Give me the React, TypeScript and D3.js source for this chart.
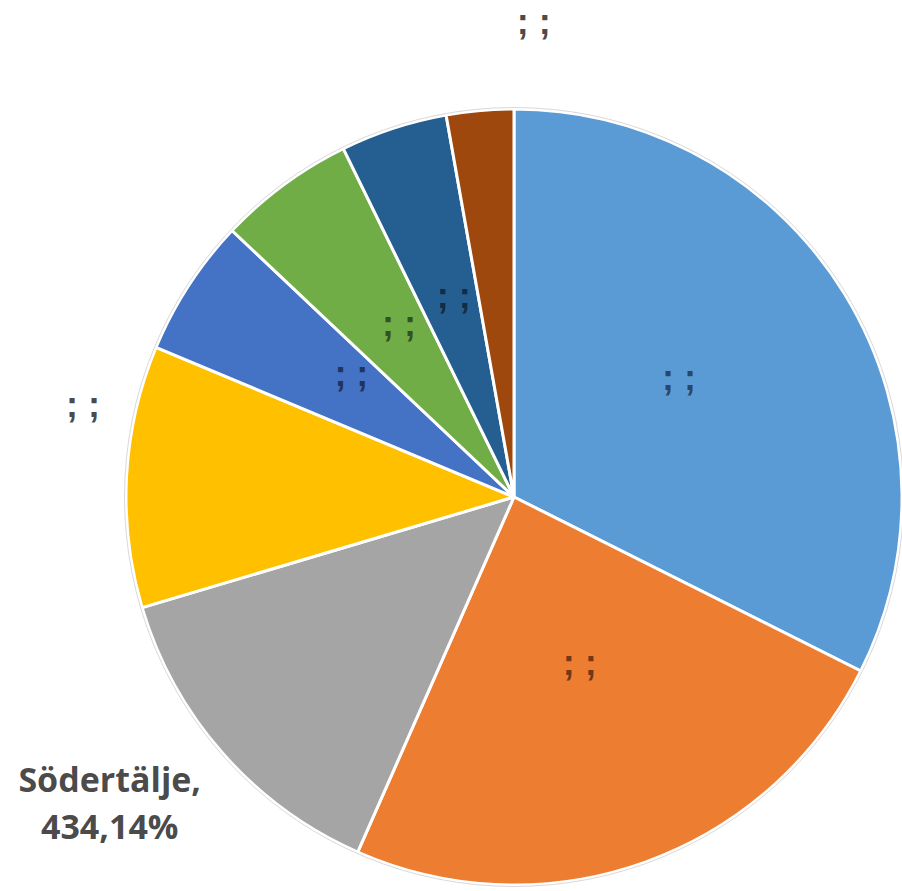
import { useEffect, useRef } from 'react';
import * as d3 from 'd3';

// slice order, clockwise from 12 o'clock
const names = ['A', 'B', 'C', 'D', 'E', 'F', 'G', 'H'];
const values = [32.4, 24.2, 13.8, 10.9, 5.75, 5.7, 4.45, 2.8];
const colors = ['#5B9BD5', '#ED7D31', '#A5A5A5', '#FFC000', '#4472C4', '#70AD47', '#255E91', '#9E480E'];
const labelTexts = [['; ;'], ['; ;'], ['Södertälje,', '434,14%'], ['; ;'], ['; ;'], ['; ;'], ['; ;'], ['; ;']];
// which labels Excel pushed outside the pie
const outside = [false, false, true, true, false, false, false, true];

const W = 902, H = 891;

const App = () => {
    const ref = useRef<SVGSVGElement>(null);

    useEffect(() => {
        const svg = d3.select(ref.current);
        svg.selectAll('*').remove();

        const cx = 514, cy = 497, r = 388;
        const g = svg.append('g').attr('transform', `translate(${cx},${cy})`);

        const pie = d3.pie<number>().sort(null).value((d) => d);
        const arcs = pie(values);
        const arc = d3.arc<d3.PieArcDatum<number>>().innerRadius(0).outerRadius(r);
        const labelArc = d3.arc<d3.PieArcDatum<number>>().innerRadius(r * 0.5).outerRadius(r * 0.5);

        g.selectAll('path.slice')
            .data(arcs)
            .enter()
            .append('path')
            .attr('class', 'slice')
            .attr('d', arc)
            .attr('fill', (_, i) => colors[i])
            .attr('stroke', '#ffffff')
            .attr('stroke-width', 3)
            .attr('stroke-linejoin', 'round');

        g.append('circle')
            .attr('r', r + 1.5)
            .attr('fill', 'none')
            .attr('stroke', '#d9d9d9')
            .attr('stroke-width', 1);

        // outside label anchor: angle shift (rad) and radius
        const outsidePos: Record<number, [number, number]> = {
            2: [0.08, 505],
            3: [0.15, 440],
            7: [0.13, 472],
        };

        arcs.forEach((a, i) => {
            let x: number, y: number;
            if (outside[i]) {
                const [shift, rr] = outsidePos[i];
                const ang = (a.startAngle + a.endAngle) / 2 + shift;
                x = Math.sin(ang) * rr;
                y = -Math.cos(ang) * rr;
            } else {
                [x, y] = labelArc.centroid(a);
            }
            const lines = labelTexts[i];
            const isName = lines.length > 1;
            const t = g.append('text')
                .attr('x', x)
                .attr('y', y)
                .attr('text-anchor', 'middle')
                .style('font-family', isName ? "'Open Sans', 'Liberation Sans', sans-serif" : "'Liberation Sans', sans-serif")
                .style('font-size', isName ? '34px' : '36px')
                .style('font-weight', 'bold')
                .attr('fill', outside[i] ? '#404040' : '#000000')
                .attr('fill-opacity', outside[i] ? 0.95 : 0.55);
            lines.forEach((ln, k) => {
                t.append('tspan')
                    .attr('x', x)
                    .attr('dy', k === 0 ? (isName ? -8 : outside[i] ? 9 : -5) : 47)
                    .text(ln);
            });
        });
    }, []);

    return (
        <svg ref={ref} width={W} height={H} style={{ position: 'absolute', left: 0, top: 0, background: '#ffffff' }} />
    );
};

export default App;
